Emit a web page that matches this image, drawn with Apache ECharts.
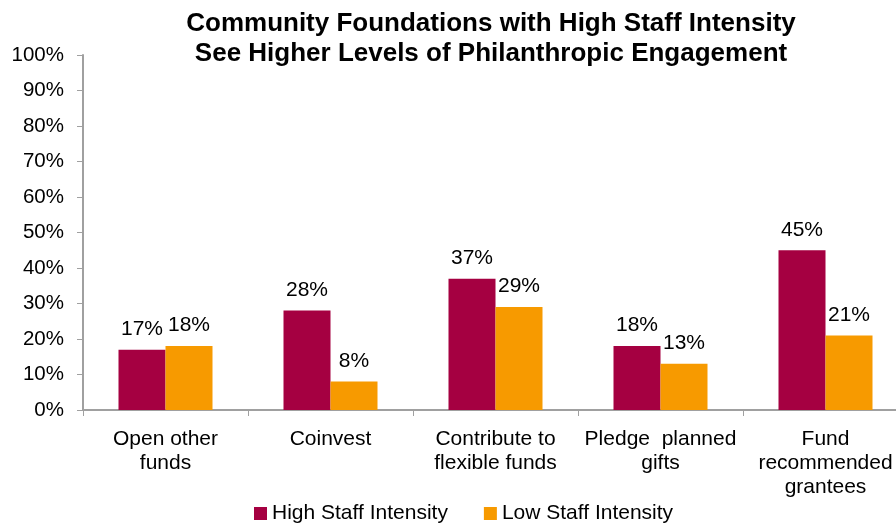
<!DOCTYPE html>
<html>
<head>
<meta charset="utf-8">
<script src="https://cdn.jsdelivr.net/npm/echarts@6/dist/echarts.min.js"></script>
<style>
  html, body { margin: 0; padding: 0; background: #fff; }
  #chart { width: 896px; height: 525px; }
</style>
</head>
<body>
<div id="chart"></div>
<script>
// Engagement categories and the share of foundations in each staff-intensity group
const categories = [
  'Open other\nfunds',
  'Coinvest',
  'Contribute to\nflexible funds',
  'Pledge  planned\ngifts',
  'Fund\nrecommended\ngrantees'
];
const highStaff = [17, 28, 37, 18, 45];
const lowStaff = [18, 8, 29, 13, 21];
const seriesNames = ['High Staff Intensity', 'Low Staff Intensity'];

const FONT = '"Liberation Sans", Arial, sans-serif';
const chart = echarts.init(document.getElementById('chart'));

const barLabel = {
  show: true,
  position: 'top',
  distance: 10,
  formatter: p => p.value + '%',
  color: '#000',
  fontFamily: FONT,
  fontSize: 21
};

chart.setOption({
  animation: false,
  textStyle: { fontFamily: FONT },
  title: {
    text: 'Community Foundations with High Staff Intensity\nSee Higher Levels of Philanthropic Engagement',
    left: 486,
    top: 4,
    textAlign: 'center',
    textStyle: { fontFamily: FONT, fontSize: 26, fontWeight: 'bold', color: '#000', lineHeight: 30 }
  },
  legend: {
    data: seriesNames,
    top: 498,
    left: 249,
    itemWidth: 13,
    itemHeight: 13,
    itemGap: 36,
    icon: 'rect',
    textStyle: { fontFamily: FONT, fontSize: 21, color: '#000' }
  },
  // the plot runs a little past the right edge of the canvas
  grid: { left: 83, width: 825, top: 55, bottom: 115, containLabel: false, outerBoundsMode: 'none' },
  xAxis: {
    type: 'category',
    data: categories,
    axisLine: { lineStyle: { color: '#a0a0a0', width: 2 } },
    axisTick: { show: true, length: 6, lineStyle: { color: '#a0a0a0' } },
    axisLabel: {
      color: '#000', fontFamily: FONT, fontSize: 21, lineHeight: 24, margin: 17,
      interval: 0
    }
  },
  yAxis: {
    type: 'value',
    min: 0,
    max: 100,
    interval: 10,
    axisLine: { show: true, lineStyle: { color: '#a0a0a0', width: 2 } },
    axisTick: { show: true, length: 6, lineStyle: { color: '#a0a0a0' } },
    splitLine: { show: false },
    axisLabel: {
      formatter: '{value}%', color: '#000', fontFamily: FONT, fontSize: 20.5, margin: 19
    }
  },
  series: [
    {
      name: seriesNames[0],
      type: 'bar',
      data: highStaff,
      barWidth: 47,
      barGap: '0%',
      itemStyle: { color: '#A50041' },
      label: barLabel
    },
    {
      name: seriesNames[1],
      type: 'bar',
      data: lowStaff,
      barWidth: 47,
      barGap: '0%',
      itemStyle: { color: '#F79A00' },
      label: barLabel
    }
  ]
});
</script>
</body>
</html>
